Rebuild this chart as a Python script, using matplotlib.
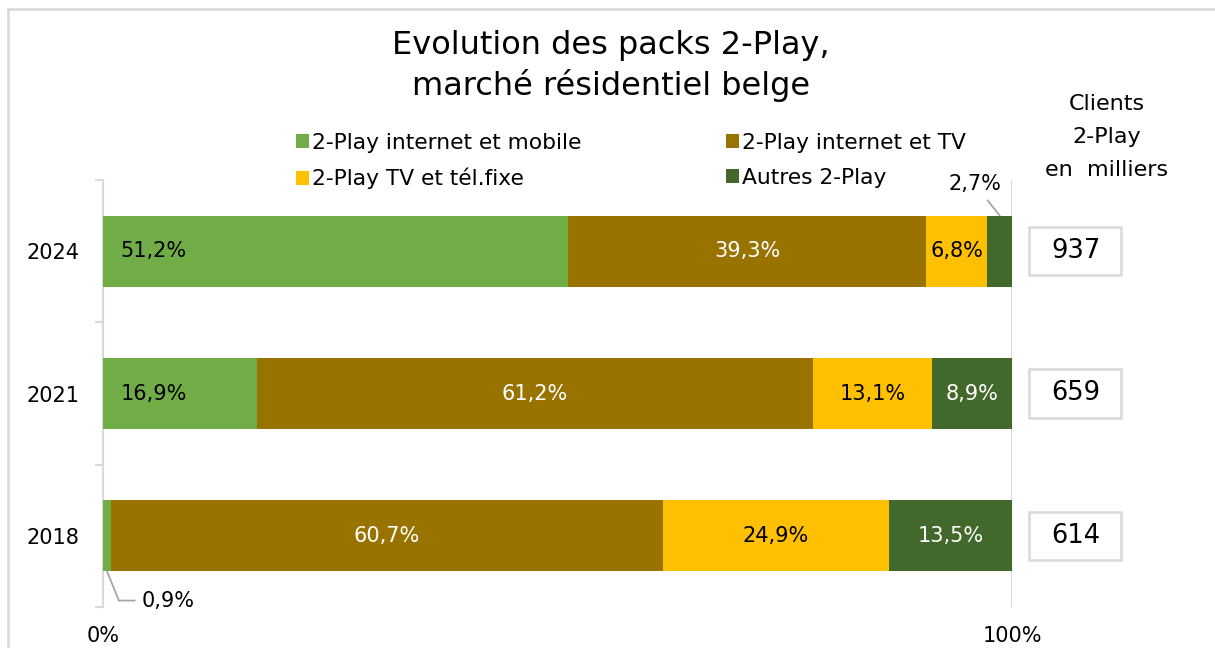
import matplotlib
matplotlib.use("Agg")
import matplotlib.pyplot as plt
from matplotlib.patches import Rectangle
from matplotlib.lines import Line2D
import numpy as np

plt.rcParams['font.family'] = ['DejaVu Sans']

years = ["2018", "2021", "2024"]
series_names = ["2-Play internet et mobile", "2-Play internet et TV",
                "2-Play TV et tél.fixe", "Autres 2-Play"]
internet_mobile = [0.9, 16.9, 51.2]
internet_tv = [60.7, 61.2, 39.3]
tv_fixe = [24.9, 13.1, 6.8]
autres = [13.5, 8.9, 2.7]
clients = [614, 659, 937]
colors = ["#70AD47", "#997300", "#FFC000", "#43682B"]
label_colors = ["black", "white", "black", "white"]
x_ticks = [0, 100]
x_ticklabels = ["0%", "100%"]

series = [internet_mobile, internet_tv, tv_fixe, autres]

fig = plt.figure(figsize=(12.15, 6.48), dpi=100)
W, H = 1215, 648
ax = fig.add_axes([103 / W, 1 - 607 / H, (1012 - 103) / W, (607 - 180) / H])

y = np.arange(len(years))
bh = 0.5
left = np.zeros(len(years))
containers = []
for vals, col, name in zip(series, colors, series_names):
    c = ax.barh(y, vals, left=left, height=bh, color=col, label=name, zorder=3)
    containers.append(c)
    left = left + np.array(vals)

def fmt(v):
    return f"{v:.1f}%".replace(".", ",")

FS = 15
left = np.zeros(len(years))
for si, (vals, lc) in enumerate(zip(series, label_colors)):
    for i, v in enumerate(vals):
        x0 = left[i]
        if si == 0 and v >= 5:
            ax.text(x0 + 1.9, y[i], fmt(v), ha='left', va='center',
                    color=lc, fontsize=FS, zorder=4)
        elif v >= 5:
            ax.text(x0 + v / 2, y[i], fmt(v), ha='center', va='center',
                    color=lc, fontsize=FS, zorder=4)
    left = left + np.array(vals)

# small segments with leader lines
ax.annotate(fmt(internet_mobile[0]), xy=(internet_mobile[0] / 2, y[0] - bh / 2),
            xytext=(44, -21), textcoords='offset points', ha='center', va='center',
            fontsize=FS, color='black', annotation_clip=False,
            arrowprops=dict(arrowstyle='-', color='#A6A6A6', lw=1.3,
                            connectionstyle='angle,angleA=0,angleB=-68,rad=0',
                            shrinkA=3, shrinkB=0))
x_aut = 100 - autres[2] / 2
ax.annotate(fmt(autres[2]), xy=(x_aut, y[2] + bh / 2),
            xytext=(-18, 22.5), textcoords='offset points', ha='center', va='center',
            fontsize=FS, color='black', annotation_clip=False,
            arrowprops=dict(arrowstyle='-', color='#A6A6A6', lw=1.3,
                            shrinkA=3, shrinkB=0))

ax.set_xlim(0, 100)
ax.set_ylim(-0.5, len(years) - 0.5)
for s in ['top', 'right', 'bottom']:
    ax.spines[s].set_visible(False)
ax.spines['left'].set_color('#D9D9D9')
ax.spines['left'].set_linewidth(1.5)

ax.set_xticks(x_ticks)
ax.set_xticklabels(x_ticklabels, fontsize=FS)
ax.tick_params(axis='x', length=0, pad=14)
ax.xaxis.grid(True, color='#D9D9D9', lw=1.5, zorder=0)
ax.set_axisbelow(True)

ax.set_yticks(np.arange(-0.5, len(years), 1.0))
ax.set_yticklabels([])
ax.tick_params(axis='y', which='major', length=6, color='#D9D9D9', width=1.5)
ax.set_yticks(y, minor=True)
ax.set_yticklabels(years, minor=True, fontsize=FS)
ax.tick_params(axis='y', which='minor', length=0, pad=17)

# client boxes
for i, n in enumerate(clients):
    rect = Rectangle((101.9, y[i] - 0.17), 10.1, 0.34, transform=ax.transData,
                     facecolor='white', edgecolor='#D9D9D9', lw=1.8, clip_on=False)
    ax.add_patch(rect)
    ax.text(107.0, y[i], str(n), ha='center', va='center', fontsize=18.5,
            clip_on=False)

fig.text(1107 / W, 1 - 137 / H, "Clients\n2-Play\nen  milliers", ha='center',
         va='center', fontsize=16, linespacing=1.8)

fig.text(611 / W, 1 - 66 / H, "Evolution des packs 2-Play,\nmarché résidentiel belge",
         ha='center', va='center', fontsize=23, linespacing=1.28)

handles = [containers[0], containers[2], containers[1], containers[3]]
labels = [series_names[0], series_names[2], series_names[1], series_names[3]]
leg = fig.legend(handles, labels, ncol=2, frameon=False, fontsize=15.7,
                 loc='upper left', bbox_to_anchor=(296 / W, 1 - 133 / H),
                 handlelength=0.6, handleheight=0.6, handletextpad=0.15,
                 columnspacing=6.6, labelspacing=0.68, borderpad=0, borderaxespad=0)

# outer frame
fig.add_artist(Line2D([8 / W, 1], [1 - 9 / H, 1 - 9 / H], transform=fig.transFigure,
                      color='#D9D9D9', lw=1.8))
fig.add_artist(Line2D([8 / W, 8 / W], [0, 1 - 9 / H], transform=fig.transFigure,
                      color='#D9D9D9', lw=1.8))

fig.savefig("out.png", dpi=100)
